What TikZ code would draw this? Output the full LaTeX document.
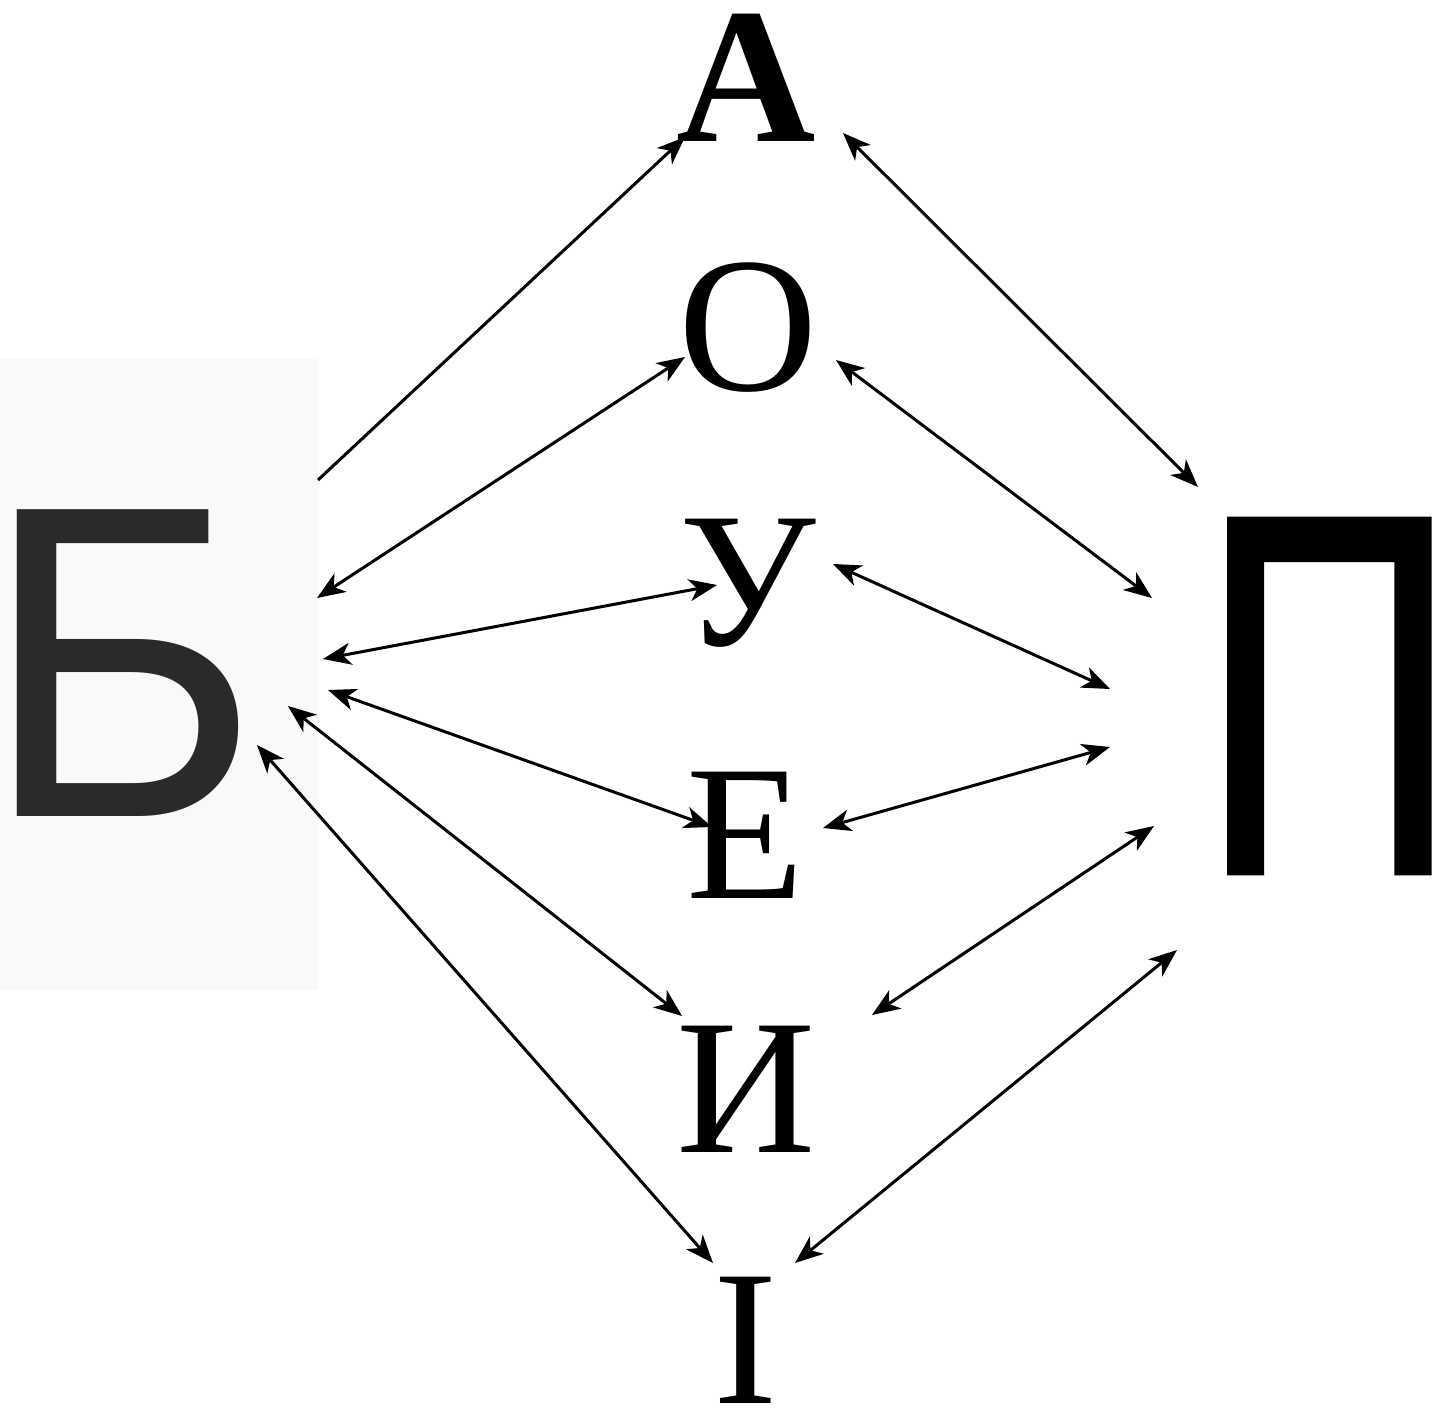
\documentclass[tikz,border=0pt]{standalone}
\usepackage{fontspec}
\setmainfont{Liberation Serif}
\newfontfamily\cyrsans{Liberation Sans}
\newfontfamily\cyrsansheavy[FakeBold=1]{Liberation Sans}
\usepackage{graphicx}
\usetikzlibrary{calc,arrows.meta}
\definecolor{panelgray}{HTML}{F9F9F9}
\definecolor{letterdark}{HTML}{2A2A2A}

\begin{document}
\begin{tikzpicture}[
    x=0.5pt, y=-0.5pt,
    vowel/.style={inner sep=0pt, font=\fontsize{96.5pt}{100pt}\selectfont},
    consonant/.style={inner sep=0pt},
    link/.style={{Stealth[length=14pt,width=11pt,inset=4pt]}-{Stealth[length=14pt,width=11pt,inset=4pt]}, line width=1.5pt},
    onelink/.style={-{Stealth[length=14pt,width=11pt,inset=4pt]}, line width=1.5pt}
]
\useasboundingbox (0,0) rectangle (1445,1409);
\fill[panelgray] (0,359) rectangle (318,990);

% consonants
\node[consonant, text=letterdark] (B) at (122,663) {\scalebox{0.95}[1]{\cyrsans\fontsize{223pt}{230pt}\selectfont Б}};
\node[consonant] (P) at (1329,696) {\scalebox{0.7}[1]{\cyrsansheavy\fontsize{257pt}{260pt}\selectfont П}};

% vowels
\node[vowel] (A) at (746,78) {\bfseries А};
\node[vowel] (O) at (748,328) {О};
\node[vowel] (U) at (748,583) {У};
\node[vowel] (E) at (745,835) {Е};
\node[vowel] (I) at (746,1089) {И};
\node[vowel] (Ii) at (746,1340) {І};

% left side
\draw[onelink] ($(B)+(196,-183)$) -- ($(A)+(-61,59)$);
\draw[link] ($(B)+(195,-65)$) -- ($(O)+(-63,29)$);
\draw[link] ($(B)+(201,-4)$) -- ($(U)+(-31,2)$);
\draw[link] ($(B)+(206,27)$) -- ($(E)+(-33,-8)$);
\draw[link] ($(B)+(166,43)$) -- ($(I)+(-64,-73)$);
\draw[link] ($(B)+(135,82)$) -- ($(Ii)+(-33,-77)$);

% right side
\draw[link] ($(A)+(97,55)$) -- ($(P)+(-131,-209)$);
\draw[link] ($(O)+(88,32)$) -- ($(P)+(-177,-98)$);
\draw[link] ($(U)+(85,-19)$) -- ($(P)+(-219,-7)$);
\draw[link] ($(E)+(78,-7)$) -- ($(P)+(-219,51)$);
\draw[link] ($(I)+(126,-74)$) -- ($(P)+(-175,130)$);
\draw[link] ($(Ii)+(49,-77)$) -- ($(P)+(-152,254)$);
\end{tikzpicture}
\end{document}
